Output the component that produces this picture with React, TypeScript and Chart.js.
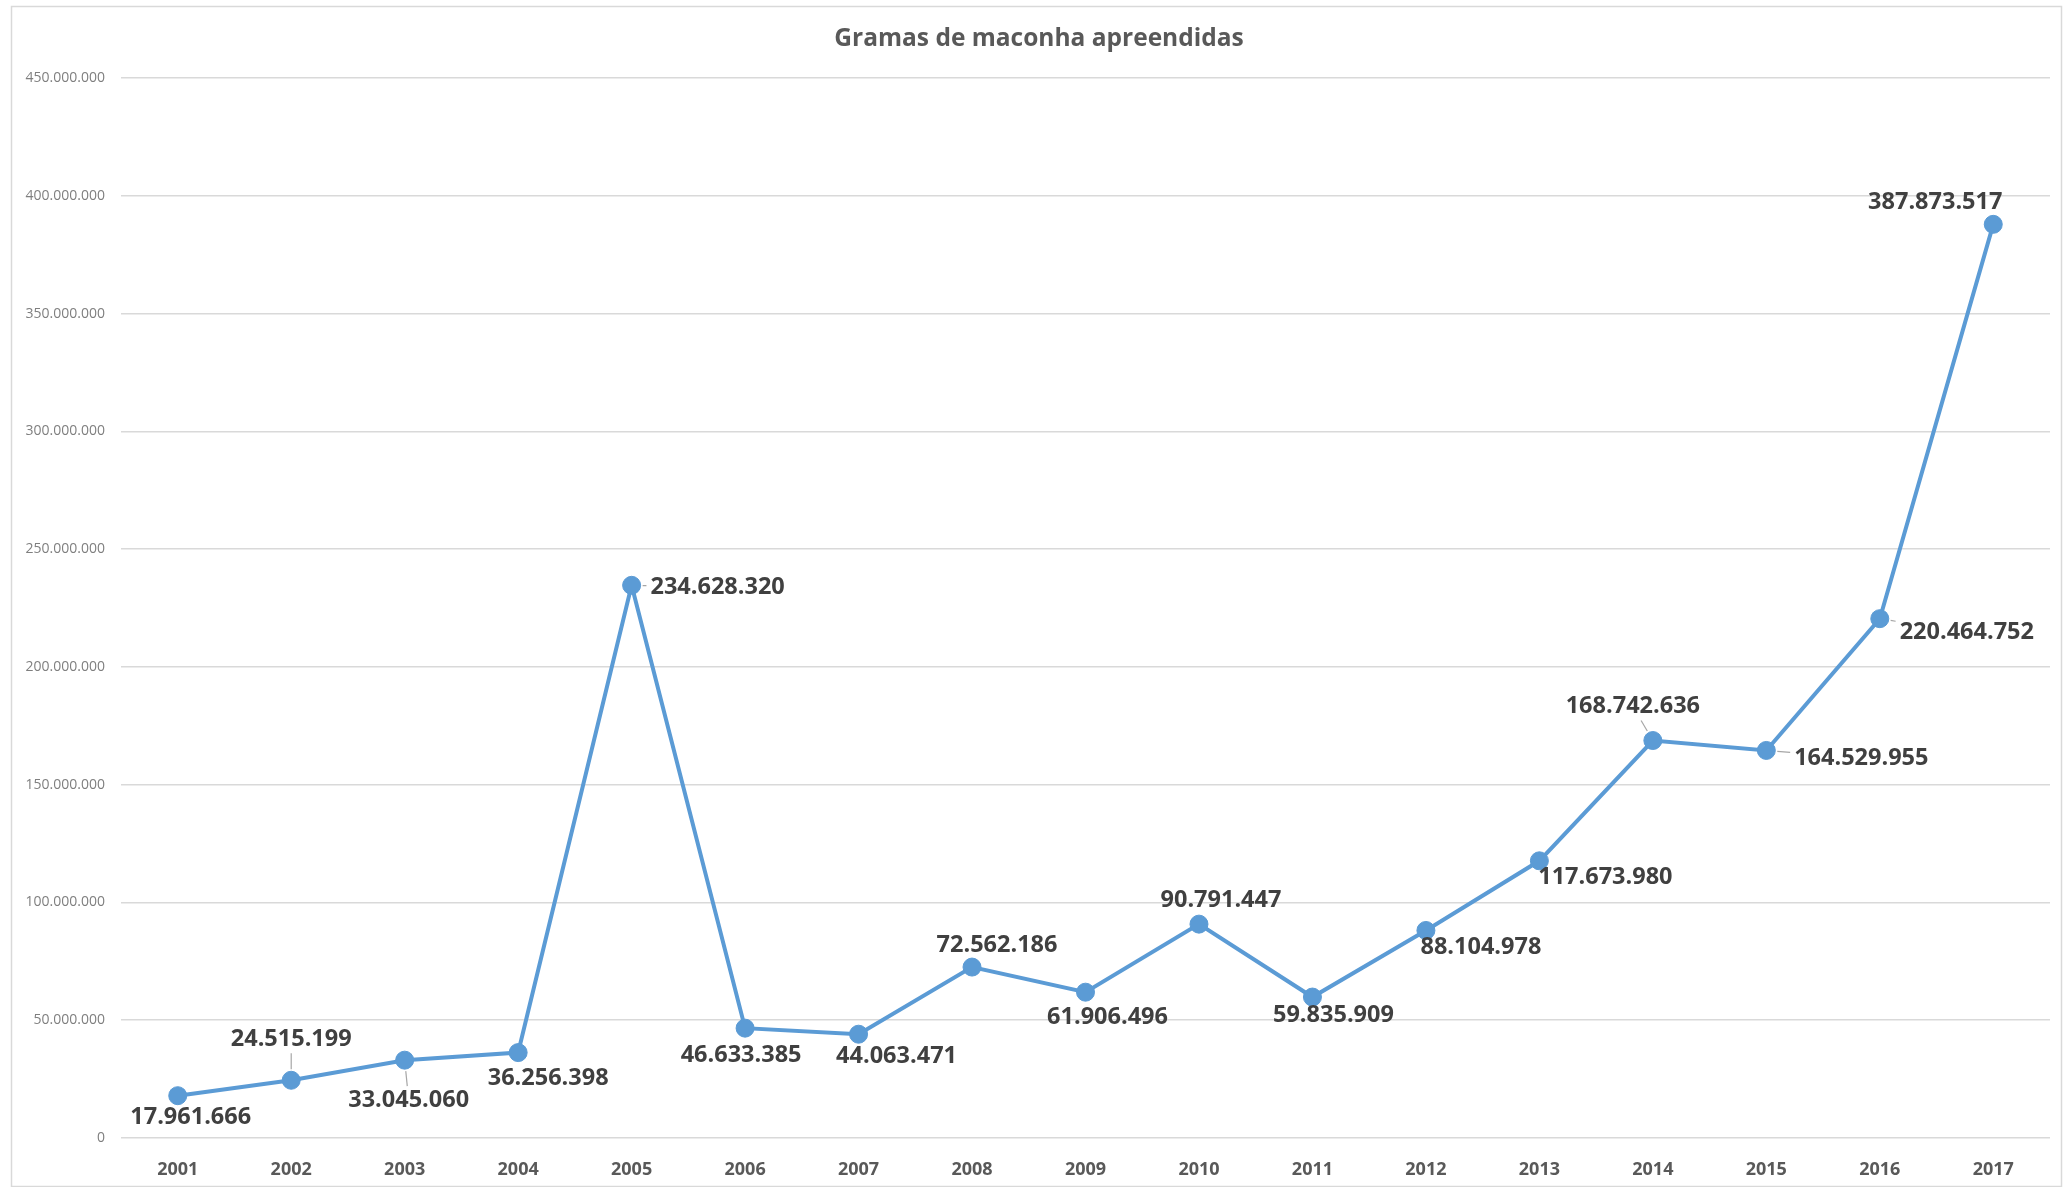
import React, { useEffect, useRef } from "react";
import { Chart, registerables } from "chart.js";

Chart.register(...registerables);

const years = ["2001","2002","2003","2004","2005","2006","2007","2008","2009","2010","2011","2012","2013","2014","2015","2016","2017"];
const grams = [17961666, 24515199, 33045060, 36256398, 234628320, 46633385, 44063471, 72562186, 61906496, 90791447, 59835909, 88104978, 117673980, 168742636, 164529955, 220464752, 387873517];
const chartTitle = "Gramas de maconha apreendidas";
// label offsets relative to each point (px)
const labelDx = [13, 0, 4, 30, 86, -4, 38, 25, 22, 22, 21, 55, 66, -20, 95, 87, -58];
const labelDy = [22, -41, 40, 26, 2, 27, 22, -22, 25, -24, 18, 17, 17, -34, 8, 14, -22];
const labelLeader = [false, true, true, false, true, false, false, false, false, false, false, false, false, true, true, true, false];

const fmt = (v: number) => Math.round(v).toString().replace(/\B(?=(\d{3})+(?!\d))/g, ".");

const BLUE = "#5B9BD5";
const FONT = "'Open Sans', 'Noto Sans', sans-serif";

const decorPlugin = {
  id: "decor",
  beforeDraw(chart: any) {
    const ctx = chart.ctx;
    ctx.save();
    ctx.fillStyle = "#ffffff";
    ctx.fillRect(0, 0, chart.width, chart.height);
    ctx.strokeStyle = "#d9d9d9";
    ctx.lineWidth = 1.5;
    ctx.strokeRect(11.5, 6.5, 2050, 1180);
    ctx.fillStyle = "#595959";
    ctx.font = `700 24.5px ${FONT}`;
    ctx.textAlign = "center";
    ctx.textBaseline = "middle";
    ctx.fillText(chartTitle, 1039, 39);
    ctx.restore();
  },
  afterDatasetsDraw(chart: any) {
    const ctx = chart.ctx;
    const meta = chart.getDatasetMeta(0);
    ctx.save();
    ctx.font = `700 23.5px ${FONT}`;
    ctx.textAlign = "center";
    ctx.textBaseline = "middle";
    meta.data.forEach((pt: any, i: number) => {
      const text = fmt(grams[i]);
      const lx = pt.x + labelDx[i];
      const ly = pt.y + labelDy[i];
      if (labelLeader[i]) {
        const w = ctx.measureText(text).width / 2 + 4;
        const h = 14;
        const dx = lx - pt.x, dy = ly - pt.y;
        const len = Math.hypot(dx, dy);
        const ux = dx / len, uy = dy / len;
        const tx = Math.abs(ux) > 1e-6 ? w / Math.abs(ux) : Infinity;
        const ty = Math.abs(uy) > 1e-6 ? h / Math.abs(uy) : Infinity;
        const edge = Math.min(tx, ty);
        const endD = len - edge;
        const startD = 11;
        if (endD > startD + 2) {
          ctx.strokeStyle = "#a6a6a6";
          ctx.lineWidth = 1.2;
          ctx.beginPath();
          ctx.moveTo(pt.x + ux * startD, pt.y + uy * startD);
          ctx.lineTo(pt.x + ux * endD, pt.y + uy * endD);
          ctx.stroke();
        }
      }
      ctx.fillStyle = "#404040";
      ctx.fillText(text, lx, ly);
    });
    ctx.restore();
  },
};

export default function App() {
  const ref = useRef<HTMLCanvasElement | null>(null);
  useEffect(() => {
    if (!ref.current) return;
    const chart = new Chart(ref.current, {
      type: "line",
      data: {
        labels: years,
        datasets: [
          {
            data: grams,
            borderColor: BLUE,
            backgroundColor: BLUE,
            borderWidth: 4,
            pointRadius: 9,
            pointBackgroundColor: BLUE,
            pointBorderColor: BLUE,
            pointBorderWidth: 1,
            tension: 0,
          },
        ],
      },
      options: {
        responsive: false,
        animation: false,
        devicePixelRatio: 1,
        layout: { padding: { top: 78, right: 14, left: 0, bottom: 0 } },
        plugins: {
          legend: { display: false },
          title: { display: false },
          tooltip: { enabled: false },
        },
        scales: {
          x: {
            type: "category",
            offset: true,
            grid: { display: false },
            border: { display: false },
            ticks: {
              color: "#595959",
              font: { family: FONT, size: 18, weight: "bold" },
              padding: 13,
              maxRotation: 0,
            },
            afterFit(scale: any) {
              scale.height = 49;
            },
          },
          y: {
            min: 0,
            max: 450000000,
            grid: { color: "#d9d9d9", lineWidth: 1.5, drawTicks: false },
            border: { display: false },
            ticks: {
              stepSize: 50000000,
              color: "#7f7f7f",
              font: { family: FONT, size: 14 },
              padding: 16,
              callback: (v: any) => fmt(Number(v)),
            },
            afterFit(scale: any) {
              scale.width = 121;
            },
          },
        },
      },
      plugins: [decorPlugin],
    });
    return () => chart.destroy();
  }, []);
  return (
    <div style={{ position: "fixed", left: 0, top: 0, width: 2064, height: 1187, background: "#fff" }}>
      <canvas ref={ref} width={2064} height={1187} style={{ display: "block", width: 2064, height: 1187 }} />
    </div>
  );
}
